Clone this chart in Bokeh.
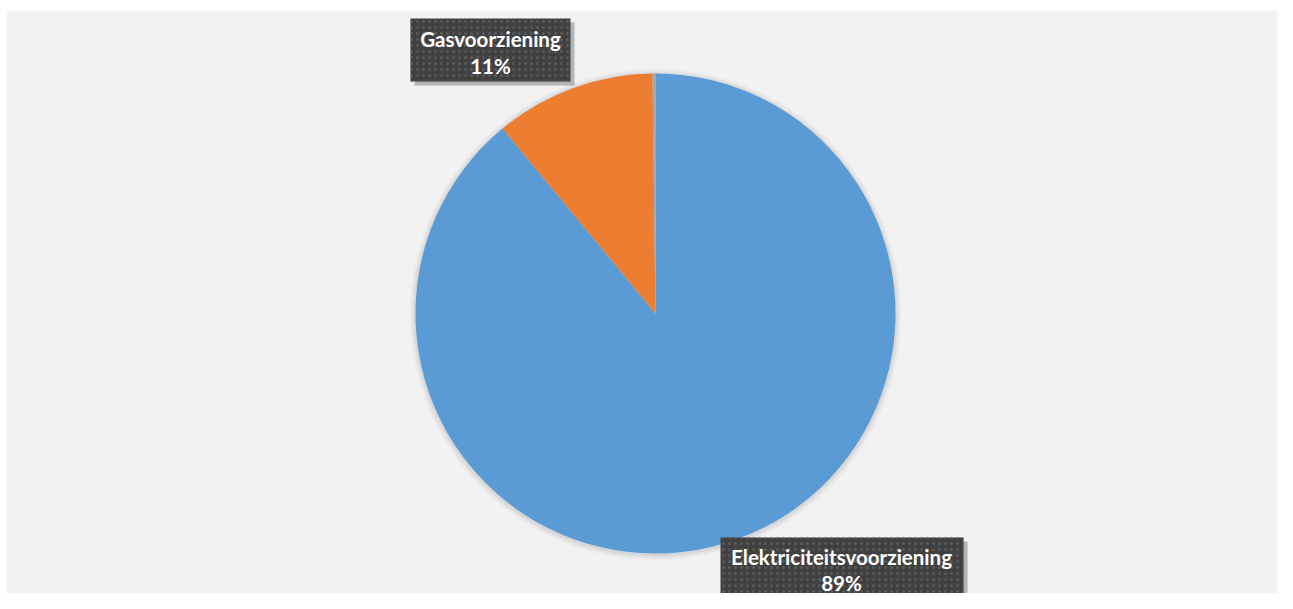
import math
from bokeh.plotting import figure
from bokeh.models import Range1d, ColumnDataSource
from bokeh.core.properties import value
from bokeh.embed import file_html
from bokeh.resources import INLINE

categories = ["Elektriciteitsvoorziening", "Gasvoorziening", "Overig"]
shares = [89.0, 10.8, 0.2]
pct_labels = ["89%", "11%", ""]
colors = ["#5B9BD5", "#ED7D31", "#A5A5A5"]

W, H = 1277, 593
LEFT, TOP = 6, 10
p = figure(width=W, height=H, output_backend="svg", toolbar_location=None,
           x_range=Range1d(LEFT, W), y_range=Range1d(0, H - TOP),
           background_fill_color="#F2F2F2", border_fill_color="white",
           min_border_left=LEFT, min_border_top=TOP, min_border_right=0, min_border_bottom=0,
           outline_line_color=None)
p.axis.visible = False
p.grid.visible = False


def py(y):
    # page-pixel y (from top) to data y
    return H - y


cx, cy, r = 655, py(313), 240

total = sum(shares)
starts, ends = [], []
a = math.pi / 2
for s in shares:
    starts.append(a)
    a -= 2 * math.pi * s / total
    ends.append(a)

# soft shadow
for k, al in [(6, 0.025), (4, 0.035), (2, 0.05)]:
    p.circle(x=[cx], y=[cy - 1], radius=r + k, fill_color="#000000", fill_alpha=al, line_color=None)

src = ColumnDataSource(dict(cat=categories, start=ends, end=starts, color=colors))
p.wedge(x=cx, y=cy, radius=r, start_angle="start", end_angle="end", direction="anticlock",
        fill_color="color", line_color=None, source=src)

# data labels: (left, right, top, bottom, text-x, line1-y, line2-y, idx) in page pixels
boxes = [
    (410, 570, 18, 81, 490, 38, 65, 1),
    (720, 963, 537, 600, 841, 556, 582, 0),
]
for (l, rr, t, b, tx, y1, y2, i) in boxes:
    p.quad(left=[l + 4], right=[rr + 4], top=[py(t + 4)], bottom=[py(b + 4)],
           fill_color="#000000", fill_alpha=0.25, line_color=None)
    p.quad(left=[l], right=[rr], top=[py(t)], bottom=[py(b)], fill_color="#404040", line_color=None,
           hatch_pattern="dot", hatch_color="#5a5a5a", hatch_scale=6, hatch_weight=1.5)
    p.text(x=[tx], y=[py(y1)], text=[categories[i]], text_color="white", text_font=value("Lato"),
           text_font_style="bold", text_font_size="20.5px", text_align="center", text_baseline="middle")
    p.text(x=[tx], y=[py(y2)], text=[pct_labels[i]], text_color="white", text_font=value("Lato"),
           text_font_style="bold", text_font_size="20.5px", text_align="center", text_baseline="middle")

open("out.html", "w").write(file_html(p, INLINE))
